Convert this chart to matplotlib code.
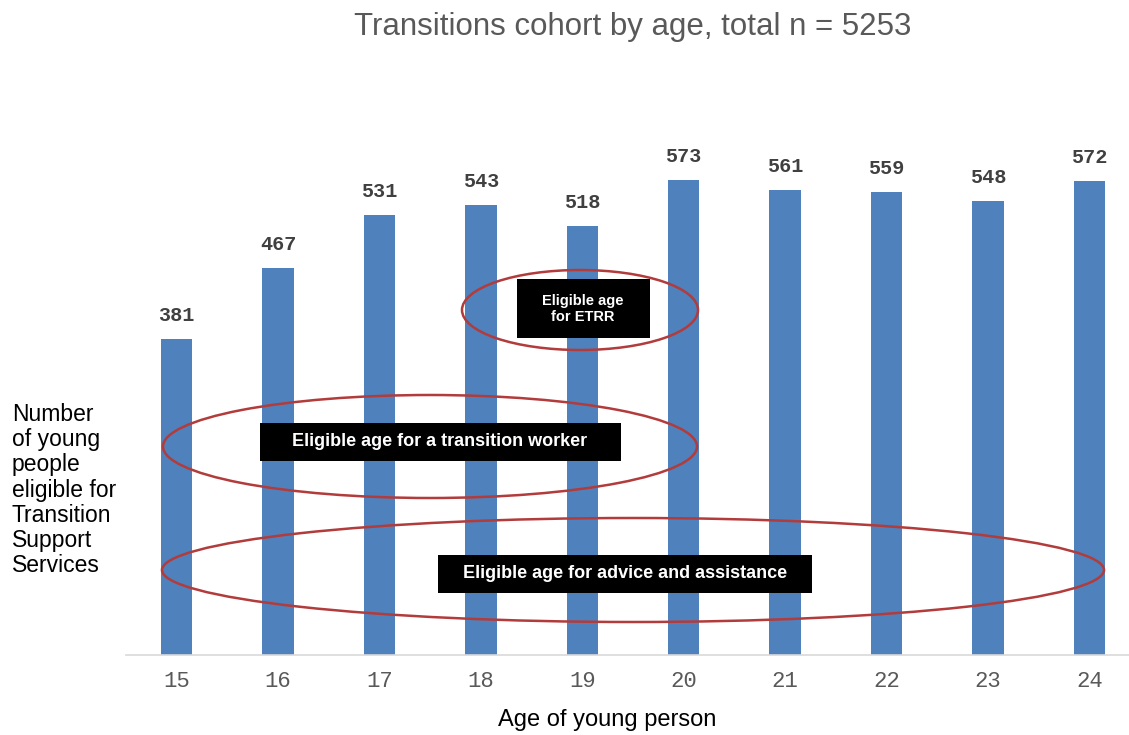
import matplotlib
matplotlib.use("Agg")
import matplotlib.pyplot as plt
from matplotlib.patches import Ellipse, Rectangle

ages = [15, 16, 17, 18, 19, 20, 21, 22, 23, 24]
counts = [381, 467, 531, 543, 518, 573, 561, 559, 548, 572]
tick_labels = [str(a) for a in ages]

title = "Transitions cohort by age, total n = 5253"
xlabel = "Age of young person"
ylabel = "Number\nof young\npeople\neligible for\nTransition\nSupport\nServices"

W, H = 1129, 735
fig = plt.figure(figsize=(W / 100, H / 100), dpi=100)
fig.patch.set_facecolor("white")

ax = fig.add_axes([126 / W, (H - 654.5) / H, 1014 / W, 538 / H])
ax.bar(ages, counts, width=0.31, color="#4f81bd", zorder=2)
ax.set_xlim(14.5, 24.5)
ax.set_ylim(0, 650)
for s in ["top", "right", "left"]:
    ax.spines[s].set_visible(False)
ax.spines["bottom"].set_color("#d9d9d9")
ax.spines["bottom"].set_linewidth(1.2)
ax.set_yticks([])
ax.set_xticks(ages)
ax.set_xticklabels(tick_labels, family="Liberation Mono", fontsize=16, color="#595959")
ax.tick_params(axis="x", length=0, pad=12)

for a, c in zip(ages, counts):
    ax.annotate(str(c), (a, c), xytext=(0, 10), textcoords="offset points",
                ha="center", va="bottom", family="Liberation Mono",
                fontweight="bold", fontsize=14.5, color="#404040")

fig.text(633 / W, 1 - 27 / H, title, ha="center", va="center",
         family="Liberation Sans", fontsize=22.5, color="#595959")
fig.text(607 / W, 1 - 720 / H, xlabel, ha="center", va="center",
         family="Liberation Sans", fontsize=17, color="black")
fig.text(12 / W, 1 - 490 / H, ylabel, ha="left", va="center",
         family="Liberation Sans", fontsize=16.5, color="black", linespacing=1.12)


def fx(px):
    return px / W


def fy(py):
    return 1 - py / H


def box(x0, x1, y0, y1, text, size, cx, cy):
    fig.patches.append(Rectangle((fx(x0), fy(y1)), fx(x1) - fx(x0), (y1 - y0) / H,
                                 transform=fig.transFigure, facecolor="black",
                                 edgecolor="none", zorder=5))
    fig.text(fx(cx), fy(cy), text, ha="center", va="center", color="white",
             family="Liberation Sans", fontweight="bold", fontsize=size,
             zorder=6, linespacing=1.15)


def ell(x0, x1, y0, y1):
    fig.patches.append(Ellipse((fx((x0 + x1) / 2), fy((y0 + y1) / 2)),
                               (x1 - x0) / W, (y1 - y0) / H,
                               transform=fig.transFigure, facecolor="none",
                               edgecolor="#b23b3b", linewidth=1.8, zorder=7))


box(517, 650, 279, 338, "Eligible age\nfor ETRR", 10.5, 583, 309)
ell(462, 698, 270, 350)

box(260, 621, 423, 461, "Eligible age for a transition worker", 13, 440, 442)
ell(163, 697, 395, 498)

box(438, 812, 555, 593, "Eligible age for advice and assistance", 13, 625, 574)
ell(162, 1104, 518, 622)

fig.savefig("out.png", dpi=100)
